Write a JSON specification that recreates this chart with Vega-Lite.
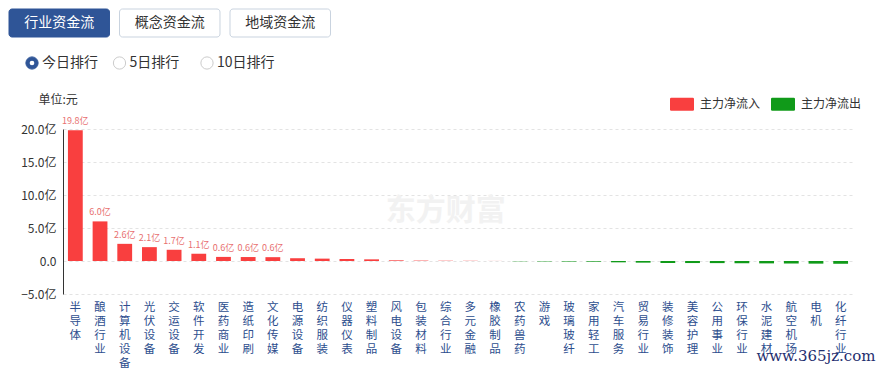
{
  "$schema": "https://vega.github.io/schema/vega-lite/v6.json",
  "padding": {"left": 8, "top": 8, "right": 0, "bottom": 0},
  "background": "white",
  "spacing": 20,
  "resolve": {"legend": {"color": "independent"}},
  "config": {
    "view": {"stroke": null},
    "font": "Noto Sans CJK SC",
    "text": {"font": "Noto Sans CJK SC"}
  },
  "vconcat": [
    {
      "spacing": 16,
      "vconcat": [
        {
          "width": 268,
          "height": 28,
          "data": {"values": [
            {"name": "行业资金流", "active": true},
            {"name": "概念资金流", "active": false},
            {"name": "地域资金流", "active": false}
          ]},
          "encoding": {
            "x": {"field": "name", "type": "nominal", "sort": null, "axis": null,
                  "scale": {"range": [-54, 267.5], "paddingInner": 0.0905, "paddingOuter": 0}}
          },
          "layer": [
            {
              "mark": {"type": "rect", "cornerRadius": 3, "strokeWidth": 1},
              "encoding": {
                "fill": {"condition": {"test": "datum.active", "value": "#2f5597"}, "value": "#ffffff"},
                "stroke": {"condition": {"test": "datum.active", "value": "#2f5597"}, "value": "#c9d3df"}
              }
            },
            {
              "mark": {"type": "text", "fontSize": 14, "baseline": "middle"},
              "encoding": {
                "text": {"field": "name"},
                "color": {"condition": {"test": "datum.active", "value": "#ffffff"}, "value": "#333333"}
              }
            }
          ]
        },
        {
          "width": 144,
          "height": 18,
          "data": {"values": [
            {"name": "今日排行", "active": true},
            {"name": "5日排行", "active": false},
            {"name": "10日排行", "active": false}
          ]},
          "encoding": {
            "x": {"field": "name", "type": "nominal", "sort": null, "axis": null,
                  "scale": {"type": "point", "range": [-31, 144], "padding": 0}}
          },
          "layer": [
            {
              "mark": {"type": "point", "shape": "circle", "size": 150, "strokeWidth": 1, "opacity": 1},
              "encoding": {
                "fill": {"condition": {"test": "datum.active", "value": "#2f5597"}, "value": "#ffffff"},
                "stroke": {"condition": {"test": "datum.active", "value": "#2f5597"}, "value": "#cccccc"}
              }
            },
            {
              "transform": [{"filter": "datum.active"}],
              "mark": {"type": "point", "shape": "circle", "size": 22, "filled": true, "color": "#ffffff", "opacity": 1}
            },
            {
              "mark": {"type": "text", "fontSize": 14, "align": "left", "baseline": "middle", "dx": 10, "color": "#333333"},
              "encoding": {"text": {"field": "name"}}
            }
          ]
        }
      ]
    },
    {
      "width": 790,
      "height": 165,
      "data": {"values": [
        {"name": "半导体", "value": 19.8, "flow": "主力净流入", "label": "19.8亿"},
        {"name": "酿酒行业", "value": 6.0, "flow": "主力净流入", "label": "6.0亿"},
        {"name": "计算机设备", "value": 2.6, "flow": "主力净流入", "label": "2.6亿"},
        {"name": "光伏设备", "value": 2.1, "flow": "主力净流入", "label": "2.1亿"},
        {"name": "交运设备", "value": 1.7, "flow": "主力净流入", "label": "1.7亿"},
        {"name": "软件开发", "value": 1.1, "flow": "主力净流入", "label": "1.1亿"},
        {"name": "医药商业", "value": 0.62, "flow": "主力净流入", "label": "0.6亿"},
        {"name": "造纸印刷", "value": 0.6, "flow": "主力净流入", "label": "0.6亿"},
        {"name": "文化传媒", "value": 0.58, "flow": "主力净流入", "label": "0.6亿"},
        {"name": "电源设备", "value": 0.42, "flow": "主力净流入", "label": ""},
        {"name": "纺织服装", "value": 0.36, "flow": "主力净流入", "label": ""},
        {"name": "仪器仪表", "value": 0.3, "flow": "主力净流入", "label": ""},
        {"name": "塑料制品", "value": 0.25, "flow": "主力净流入", "label": ""},
        {"name": "风电设备", "value": 0.1, "flow": "主力净流入", "label": ""},
        {"name": "包装材料", "value": 0.06, "flow": "主力净流入", "label": ""},
        {"name": "综合行业", "value": 0.04, "flow": "主力净流入", "label": ""},
        {"name": "多元金融", "value": 0.03, "flow": "主力净流入", "label": ""},
        {"name": "橡胶制品", "value": 0.01, "flow": "主力净流入", "label": ""},
        {"name": "农药兽药", "value": -0.04, "flow": "主力净流出", "label": ""},
        {"name": "游戏", "value": -0.06, "flow": "主力净流出", "label": ""},
        {"name": "玻璃玻纤", "value": -0.08, "flow": "主力净流出", "label": ""},
        {"name": "家用轻工", "value": -0.1, "flow": "主力净流出", "label": ""},
        {"name": "汽车服务", "value": -0.2, "flow": "主力净流出", "label": ""},
        {"name": "贸易行业", "value": -0.25, "flow": "主力净流出", "label": ""},
        {"name": "装修装饰", "value": -0.3, "flow": "主力净流出", "label": ""},
        {"name": "美容护理", "value": -0.31, "flow": "主力净流出", "label": ""},
        {"name": "公用事业", "value": -0.32, "flow": "主力净流出", "label": ""},
        {"name": "环保行业", "value": -0.34, "flow": "主力净流出", "label": ""},
        {"name": "水泥建材", "value": -0.36, "flow": "主力净流出", "label": ""},
        {"name": "航空机场", "value": -0.38, "flow": "主力净流出", "label": ""},
        {"name": "电机", "value": -0.4, "flow": "主力净流出", "label": ""},
        {"name": "化纤行业", "value": -0.42, "flow": "主力净流出", "label": ""}
      ]},
      "encoding": {
        "x": {
          "field": "name", "type": "nominal", "sort": null,
          "scale": {"paddingInner": 0.4, "paddingOuter": 0.2},
          "axis": {
            "title": null, "domain": false, "ticks": false, "labelAngle": 0,
            "labelExpr": "split(datum.label, '')",
            "labelLineHeight": 14, "labelFontSize": 11.5, "labelColor": "#2d4e8e",
            "labelBaseline": "top", "labelPadding": 7, "labelOverlap": false, "labelLimit": 0
          }
        },
        "y": {
          "field": "value", "type": "quantitative",
          "scale": {"domain": [-5, 20], "nice": false, "zero": false},
          "axis": {
            "values": [-5, 0, 5, 10, 15, 20],
            "labelExpr": "datum.value == 0 ? '0.0' : format(datum.value, '.1f') + '亿'",
            "labelFontSize": 12, "labelColor": "#333333", "labelPadding": 7,
            "ticks": false, "domainColor": "#333333", "domainWidth": 1,
            "grid": true, "gridDash": [3, 3], "gridColor": "#e3e3e3",
            "minExtent": 54,
            "title": "单位:元", "titleAngle": 0, "titleX": -25, "titleY": -30,
            "titleAlign": "left", "titleBaseline": "middle",
            "titleFontSize": 12, "titleFontWeight": "normal", "titleColor": "#333333"
          }
        }
      },
      "layer": [
        {
          "mark": {"type": "bar"},
          "encoding": {
            "color": {
              "field": "flow", "type": "nominal",
              "scale": {"domain": ["主力净流入", "主力净流出"], "range": ["#f93f3f", "#109a19"]},
              "legend": {
                "title": null, "orient": "none", "legendX": 607, "legendY": -37,
                "direction": "horizontal",
                "symbolType": "M-0.9,-0.54H0.9Q1,-0.54 1,-0.44V0.44Q1,0.54 0.9,0.54H-0.9Q-1,0.54 -1,0.44V-0.44Q-1,-0.54 -0.9,-0.54Z",
                "symbolSize": 576, "symbolStrokeWidth": 0, "symbolOpacity": 1,
                "labelFontSize": 12, "labelColor": "#333333", "labelOffset": 6,
                "columnPadding": 10, "padding": 0
              }
            }
          }
        },
        {
          "mark": {"type": "text", "baseline": "bottom", "dy": -4, "fontSize": 9, "color": "#e8706f"},
          "encoding": {"text": {"field": "label"}}
        },
        {
          "mark": {"type": "rule", "color": "#333333", "strokeWidth": 1},
          "encoding": {"y": {"datum": 0}}
        },
        {
          "transform": [{"filter": "datum.name == '综合行业'"}],
          "mark": {"type": "text", "fontSize": 30, "fontWeight": "bold", "color": "#f2f2f2", "baseline": "middle"},
          "encoding": {"text": {"value": "东方财富"}, "y": {"datum": 7.6}}
        },
        {
          "transform": [{"filter": "datum.name == '电机'"}],
          "mark": {"type": "text", "fontSize": 15, "font": "DejaVu Serif", "color": "#1f2f6f", "baseline": "middle"},
          "encoding": {"text": {"value": "www.365jz.com"}, "y": {"datum": -14.4}}
        }
      ]
    }
  ]
}
